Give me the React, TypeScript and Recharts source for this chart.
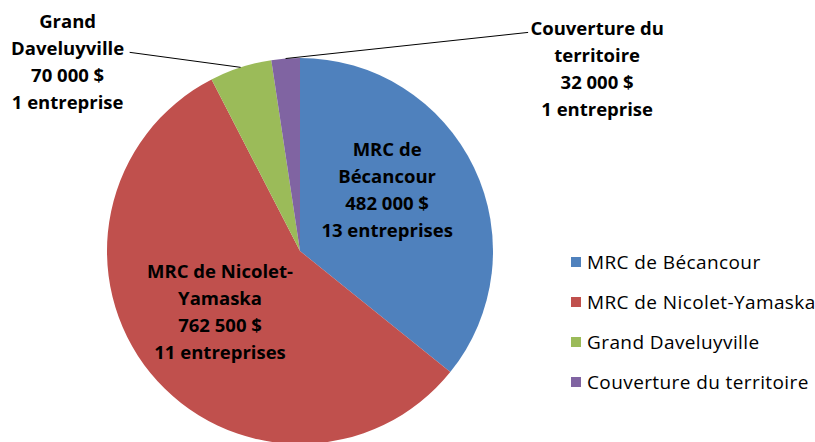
import * as React from "react";
import { PieChart, Pie, Cell, Legend } from "recharts";

const regions = [
  "MRC de Bécancour",
  "MRC de Nicolet-Yamaska",
  "Grand Daveluyville",
  "Couverture du territoire"
];
const amounts = [482000, 762500, 70000, 32000];
const companies = [13, 11, 1, 1];
const labelNames = [
  ["MRC de", "Bécancour"],
  ["MRC de Nicolet-", "Yamaska"],
  ["Grand", "Daveluyville"],
  ["Couverture du", "territoire"]
];
const colors = ["#4F81BD", "#C0504D", "#9BBB59", "#8064A2"];

// where each label sits: radius factor + angle shift from the slice middle;
// outside labels also get a leader line and a text offset from its end
const labelLayout = [
  { r: 0.555, shift: 10, outside: false, tx: 0, ty: -40 },
  { r: 0.52, shift: -2, outside: false, tx: 0, ty: -41 },
  { r: 1.356, shift: 22.7, outside: true, tx: -62, ty: -32 },
  { r: 1.637, shift: -50.5, outside: true, tx: 69, ty: -5 }
];

const FONT = "'Open Sans', sans-serif";
const RADIAN = Math.PI / 180;

const money = (v: number) =>
  String(v).replace(/\B(?=(\d{3})+(?!\d))/g, " ") + " $";

const data = regions.map((name, i) => ({
  name,
  value: amounts[i],
  lines: [
    ...labelNames[i],
    money(amounts[i]),
    companies[i] + (companies[i] > 1 ? " entreprises" : " entreprise")
  ]
}));

const renderLabel = (props: any) => {
  const { cx, cy, midAngle, outerRadius, index } = props;
  const lay = labelLayout[index];
  const lines: string[] = data[index].lines;
  const ang = (midAngle + lay.shift) * RADIAN;
  const ax = cx + outerRadius * lay.r * Math.cos(ang);
  const ay = cy - outerRadius * lay.r * Math.sin(ang);
  const lineH = 27;
  let tx = ax;
  let ty = ay + lay.ty;
  let leader: React.ReactNode = null;
  if (lay.outside) {
    const ex = cx + outerRadius * Math.cos(midAngle * RADIAN);
    const ey = cy - outerRadius * Math.sin(midAngle * RADIAN);
    leader = (
      <line x1={ex} y1={ey} x2={ax} y2={ay} stroke="#000" strokeWidth={1} />
    );
    tx = ax + lay.tx;
  }
  return (
    <g key={"lbl" + index}>
      {leader}
      <text
        x={tx}
        y={ty}
        textAnchor="middle"
        fontFamily={FONT}
        fontWeight="bold"
        fontSize={18.5}
        fill="#000"
      >
        {lines.map((l, k) => (
          <tspan key={k} x={tx} y={ty + k * lineH} dominantBaseline="central">
            {l}
          </tspan>
        ))}
      </text>
    </g>
  );
};

const renderLegend = () => (
  <div
    style={{ fontFamily: FONT, fontSize: 19, letterSpacing: 0.4, color: "#000" }}
  >
    {regions.map((r, i) => (
      <div
        key={r}
        style={{ display: "flex", alignItems: "center", height: 40 }}
      >
        <span
          style={{
            display: "inline-block",
            width: 10,
            height: 10,
            background: colors[i],
            marginRight: 6
          }}
        />
        <span>{r}</span>
      </div>
    ))}
  </div>
);

export default function App() {
  return (
    <div
      style={{
        position: "absolute",
        left: 0,
        top: 0,
        width: 815,
        height: 442,
        background: "#fff",
        overflow: "hidden"
      }}
    >
      <PieChart
        width={815}
        height={442}
        margin={{ top: 0, right: 0, bottom: 0, left: 0 }}
      >
        <Pie
          data={data}
          dataKey="value"
          nameKey="name"
          cx={300}
          cy={251}
          outerRadius={193}
          startAngle={90}
          endAngle={-270}
          stroke="none"
          isAnimationActive={false}
          labelLine={false}
          label={renderLabel}
        >
          {data.map((d, i) => (
            <Cell key={d.name} fill={colors[i]} />
          ))}
        </Pie>
        <Legend
          content={renderLegend}
          wrapperStyle={{ left: 571, top: 242, width: 250 }}
        />
      </PieChart>
    </div>
  );
}
